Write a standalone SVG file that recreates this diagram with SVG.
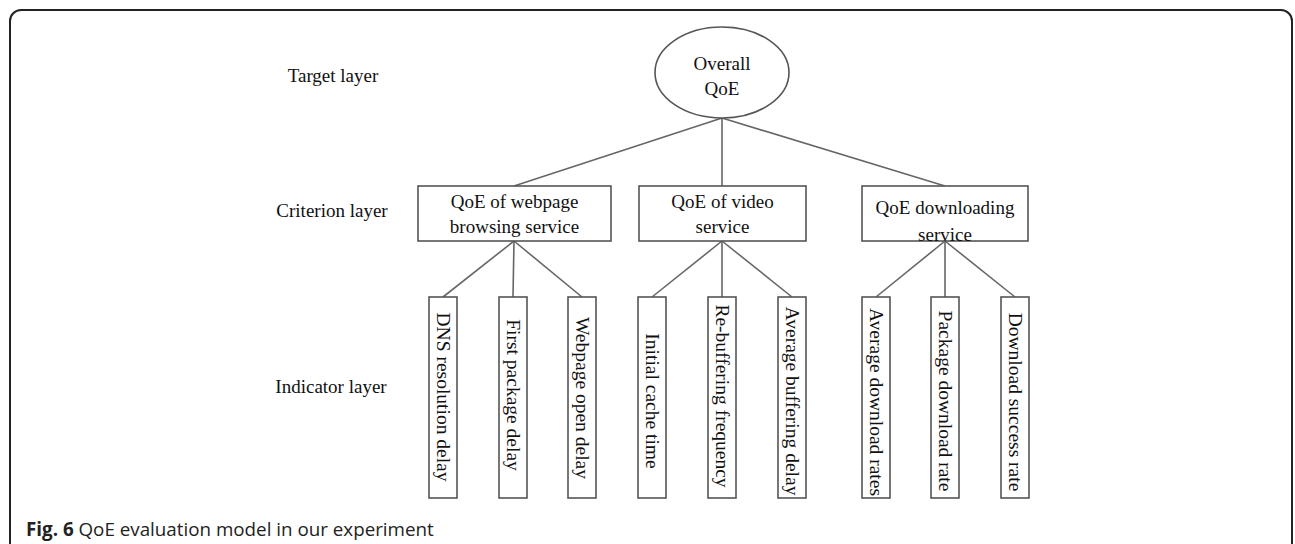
<svg xmlns="http://www.w3.org/2000/svg" width="1295" height="544" viewBox="0 0 1295 544">
  <style>
    .t { font-family: "Liberation Serif", "Times New Roman", serif; font-size: 19px; fill: #111; }
    .c { text-anchor: middle; }
    .v { font-family: "Liberation Serif", "Times New Roman", serif; font-size: 19.5px; fill: #111; text-anchor: middle; }
    .box { fill: #fff; stroke: #555; stroke-width: 1.6; }
    .ind { fill: #fff; stroke: #555; stroke-width: 1.6; }
    .ln { stroke: #666; stroke-width: 1.6; fill: none; }
    .cap { font-family: "Open Sans", "Noto Sans", sans-serif; font-size: 18.8px; fill: #222; }
  </style>
  <rect width="1295" height="544" fill="#fff"/>
  <rect id="frame" x="10" y="10" width="1282" height="545" rx="11" ry="11" fill="none" stroke="#222" stroke-width="2"/>

  <g id="layer-labels">
    <text class="t c" x="333" y="82">Target layer</text>
    <text class="t c" x="332" y="217">Criterion layer</text>
    <text class="t c" x="331" y="393">Indicator layer</text>
  </g>

  <g id="connectors">
    <line class="ln" x1="722" y1="118" x2="514" y2="186"/>
    <line class="ln" x1="722" y1="118" x2="722" y2="186"/>
    <line class="ln" x1="722" y1="118" x2="945" y2="186"/>
    <line class="ln" x1="514" y1="241" x2="443" y2="297"/>
    <line class="ln" x1="514" y1="241" x2="513" y2="297"/>
    <line class="ln" x1="514" y1="241" x2="582" y2="297"/>
    <line class="ln" x1="722" y1="241" x2="652" y2="297"/>
    <line class="ln" x1="722" y1="241" x2="722" y2="297"/>
    <line class="ln" x1="722" y1="241" x2="792" y2="297"/>
    <line class="ln" x1="945" y1="241" x2="876" y2="297"/>
    <line class="ln" x1="945" y1="241" x2="945" y2="297"/>
    <line class="ln" x1="945" y1="241" x2="1015" y2="297"/>
  </g>

  <g id="overall">
    <ellipse class="box" cx="722" cy="72.5" rx="67" ry="45.5"/>
    <text class="t c" x="722" y="70">Overall</text>
    <text class="t c" x="722" y="95">QoE</text>
  </g>

  <g id="webpage">
    <rect class="box" x="418" y="186" width="193" height="55"/>
    <text class="t c" x="514.5" y="208">QoE of webpage</text>
    <text class="t c" x="514.5" y="233">browsing service</text>
  </g>
  <g id="video">
    <rect class="box" x="639" y="186" width="167" height="55"/>
    <text class="t c" x="722.5" y="208">QoE of video</text>
    <text class="t c" x="722.5" y="233">service</text>
  </g>
  <g id="download">
    <rect class="box" x="862" y="186" width="166" height="55"/>
    <text class="t c" x="945" y="214">QoE downloading</text>
    <text class="t c" x="945" y="241">service</text>
  </g>

  <g id="dns">
    <rect class="ind" x="429" y="297" width="28" height="201"/>
    <text class="v" transform="translate(437,397) rotate(90)">DNS resolution delay</text>
  </g>
  <g id="first-package">
    <rect class="ind" x="499" y="297" width="28" height="201"/>
    <text class="v" transform="translate(507,395) rotate(90)">First package delay</text>
  </g>
  <g id="webpage-open">
    <rect class="ind" x="568" y="297" width="28" height="201"/>
    <text class="v" transform="translate(576,398) rotate(90)">Webpage open delay</text>
  </g>
  <g id="initial-cache">
    <rect class="ind" x="638" y="297" width="28" height="201"/>
    <text class="v" transform="translate(646,401) rotate(90)">Initial cache time</text>
  </g>
  <g id="rebuffering">
    <rect class="ind" x="708" y="297" width="28" height="201"/>
    <text class="v" transform="translate(716,396) rotate(90)">Re-buffering frequency</text>
  </g>
  <g id="avg-buffering">
    <rect class="ind" x="778" y="297" width="28" height="201"/>
    <text class="v" transform="translate(786,401) rotate(90)">Average buffering delay</text>
  </g>
  <g id="avg-download">
    <rect class="ind" x="862" y="297" width="28" height="201"/>
    <text class="v" transform="translate(870,402) rotate(90)">Average download rates</text>
  </g>
  <g id="package-download">
    <rect class="ind" x="931" y="297" width="28" height="201"/>
    <text class="v" transform="translate(939,401) rotate(90)">Package download rate</text>
  </g>
  <g id="download-success">
    <rect class="ind" x="1001" y="297" width="28" height="201"/>
    <text class="v" transform="translate(1009,402) rotate(90)">Download success rate</text>
  </g>

  <g id="caption">
    <text class="cap" x="26" y="536"><tspan font-weight="bold">Fig. 6</tspan> QoE evaluation model in our experiment</text>
  </g>
</svg>
